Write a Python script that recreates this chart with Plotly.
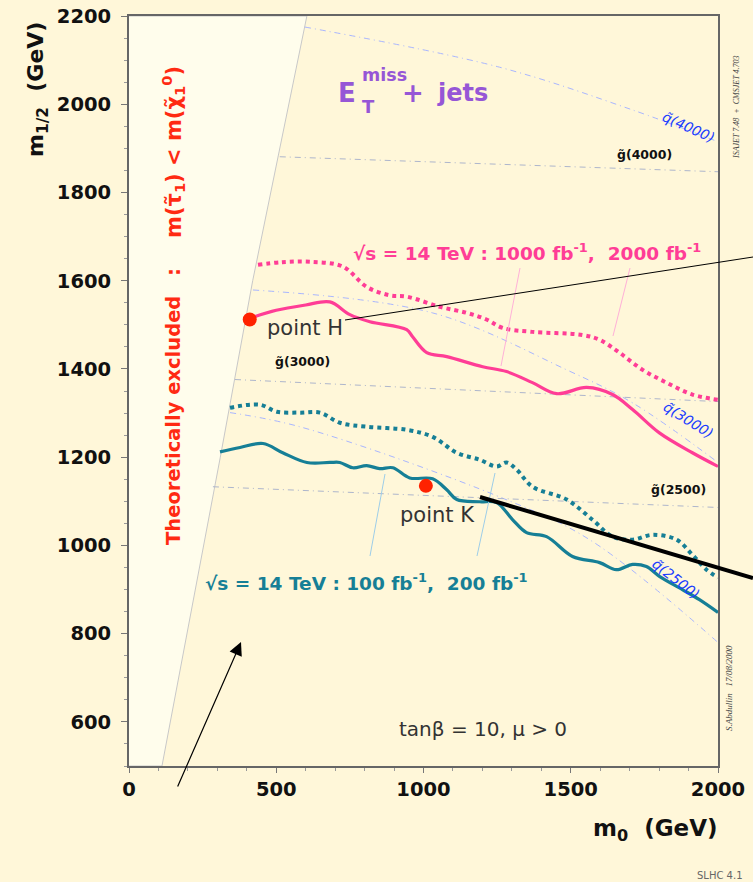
import plotly.graph_objects as go

# ---- figure geometry (pixels) ----
W, H = 753, 882
ML, MR, MT, MB = 129, 35, 16, 116
PW, PH = W - ML - MR, H - MT - MB


def paper(x, y):
    """pixel position on the page -> paper coordinates"""
    return (x - ML) / PW, (H - MB - y) / PH


# ---- data ----
excl_m0 = [0, 112, 310, 420, 604, 0]
excl_m12 = [500, 500, 1200, 1600, 2200, 2200]

# 5 sigma discovery reach, sqrt(s) = 14 TeV
pink_solid_m0 = [410, 500, 600, 682, 750, 818, 943, 963, 1011, 1079, 1201, 1282, 1370,
                 1452, 1554, 1642, 1710, 1801, 1913, 2000]
pink_solid_m12 = [1515, 1533, 1545, 1552, 1523, 1507, 1489, 1473, 1437, 1428, 1405, 1394,
                  1369, 1344, 1358, 1342, 1308, 1255, 1210, 1179]

pink_dot_m0 = [438, 520, 614, 726, 807, 885, 943, 1055, 1147, 1214, 1269, 1370, 1540,
               1598, 1665, 1744, 1825, 1913, 2000]
pink_dot_m12 = [1636, 1642, 1643, 1632, 1586, 1567, 1564, 1541, 1527, 1512, 1493, 1484,
                1477, 1466, 1437, 1398, 1369, 1342, 1330]

teal_solid_m0 = [309, 377, 455, 522, 604, 682, 716, 760, 807, 851, 896, 953, 1031, 1079,
                 1113, 1191, 1248, 1303, 1350, 1418, 1506, 1598, 1655, 1710, 1757, 1801,
                 1879, 1937, 2000]
teal_solid_m12 = [1212, 1222, 1231, 1210, 1188, 1188, 1188, 1176, 1181, 1174, 1176, 1153,
                  1151, 1126, 1104, 1099, 1097, 1058, 1029, 1020, 975, 961, 945, 957, 952,
                  930, 900, 877, 848]

teal_dot_m0 = [343, 444, 502, 580, 648, 716, 807, 943, 1031, 1113, 1191, 1248, 1282, 1316,
               1370, 1486, 1574, 1642, 1710, 1778, 1859, 1913, 1961, 2000]
teal_dot_m12 = [1312, 1319, 1303, 1301, 1301, 1278, 1269, 1262, 1246, 1210, 1194, 1179,
                1188, 1172, 1133, 1104, 1058, 1020, 1013, 1024, 1013, 979, 945, 927]

# iso-mass contours (squark / gluino)
sq4000_m0, sq4000_m12 = [597, 1258, 1710, 2000], [2175, 2084, 1987, 1915]
sq3000_m0, sq3000_m12 = [421, 1031, 1486, 1710, 2000], [1579, 1527, 1398, 1323, 1188]
sq2500_m0, sq2500_m12 = [343, 580, 1258, 1564, 2000], [1301, 1269, 1110, 1013, 780]
gl4000_m0, gl4000_m12 = [512, 2000], [1881, 1847]
gl3000_m0, gl3000_m12 = [360, 2000], [1376, 1326]
gl2500_m0, gl2500_m12 = [285, 2000], [1133, 1086]

# benchmark points
pt_names = ["point H", "point K"]
pt_m0 = [410, 1008]
pt_m12 = [1512, 1135]

x_ticks = [0, 500, 1000, 1500, 2000]
y_ticks = [600, 800, 1000, 1200, 1400, 1600, 1800, 2000, 2200]

# ---- style ----
BG = "#FFF7D9"
PINK = "#FF3D96"
TEAL = "#167F96"
SQ_COL = "#A9B6FF"
GL_COL = "#AEB6CC"
FONT = "DejaVu Sans, Liberation Sans, Arial, sans-serif"

fig = go.Figure()

fig.add_trace(go.Scatter(x=excl_m0, y=excl_m12, mode="lines", fill="toself",
                         fillcolor="#FFFDEC", line=dict(color="#C8C8C8", width=1),
                         hoverinfo="skip"))

for xs, ys, col in [(sq4000_m0, sq4000_m12, SQ_COL), (sq3000_m0, sq3000_m12, SQ_COL),
                    (sq2500_m0, sq2500_m12, SQ_COL), (gl4000_m0, gl4000_m12, GL_COL),
                    (gl3000_m0, gl3000_m12, GL_COL), (gl2500_m0, gl2500_m12, GL_COL)]:
    fig.add_trace(go.Scatter(x=xs, y=ys, mode="lines", line_shape="spline",
                             line=dict(color=col, width=1, dash="6px,4px,1px,4px"),
                             hoverinfo="skip"))

fig.add_trace(go.Scatter(x=pink_dot_m0, y=pink_dot_m12, mode="lines", line_shape="spline",
                         line=dict(color=PINK, width=4, dash="4px,4px")))
fig.add_trace(go.Scatter(x=pink_solid_m0, y=pink_solid_m12, mode="lines", line_shape="spline",
                         line=dict(color=PINK, width=3.2)))
fig.add_trace(go.Scatter(x=teal_dot_m0, y=teal_dot_m12, mode="lines", line_shape="spline",
                         line=dict(color=TEAL, width=4, dash="4px,4px")))
fig.add_trace(go.Scatter(x=teal_solid_m0, y=teal_solid_m12, mode="lines", line_shape="spline",
                         line=dict(color=TEAL, width=3.2)))
fig.add_trace(go.Scatter(x=pt_m0, y=pt_m12, mode="markers",
                         marker=dict(color="#FF2200", size=14, line=dict(width=0))))

ann = []


def text(x, y, s, size, color, ref="data", **kw):
    if ref == "px":
        x, y = paper(x, y)
        kw.update(xref="paper", yref="paper")
    else:
        kw.update(xref="x", yref="y")
    kw.setdefault("xanchor", "center")
    kw.setdefault("yanchor", "middle")
    d = dict(x=x, y=y, text=s, showarrow=False, font=dict(family=kw.pop("family", FONT),
             size=size, color=color, weight=kw.pop("weight", "normal"),
             style=kw.pop("style", "normal")))
    d.update(kw)
    ann.append(d)


# benchmark point labels
text(461, 1493, pt_names[0], 21, "#333333", xanchor="left")
text(912, 1070, pt_names[1], 21, "#333333", xanchor="left")

# contour labels
text(1750, 1885, "g̃(4000)", 12.5, "#111111", weight="bold")
text(590, 1416, "g̃(3000)", 12.5, "#111111", weight="bold")
text(1866, 1126, "g̃(2500)", 12.5, "#111111", weight="bold")
text(1900, 1949, "q̃(4000)", 14, "#1A3CFF", style="italic", textangle=24)
text(1900, 1285, "q̃(3000)", 14, "#1A3CFF", style="italic", textangle=32)
text(1857, 923, "q̃(2500)", 14, "#1A3CFF", style="italic", textangle=38)

# curve labels
text(351, 252, "√s = 14 TeV : 1000 fb<sup>-1</sup>,  2000 fb<sup>-1</sup>", 18.5, PINK,
     ref="px", weight="bold", xanchor="left")
text(203, 582, "√s = 14 TeV : 100 fb<sup>-1</sup>,  200 fb<sup>-1</sup>", 18.5, TEAL,
     ref="px", weight="bold", xanchor="left")

# channel label
PURPLE = "#9656D6"
text(336, 93, "E", 26, PURPLE, ref="px", weight="bold", xanchor="left")
text(360, 75, "miss", 17.5, PURPLE, ref="px", weight="bold", xanchor="left")
text(360, 106, "T", 18, PURPLE, ref="px", weight="bold", xanchor="left")
text(400, 93, "+", 26, PURPLE, ref="px", weight="bold", xanchor="left")
text(435, 93, "jets", 24, PURPLE, ref="px", weight="bold", xanchor="left")

# model parameters
text(909, 583, "tanβ = 10, μ > 0", 20, "#333333", xanchor="left")

# excluded region label
RED = "#FF2A12"
text(173, 421, "Theoretically excluded", 19.5, RED, ref="px", weight="bold", textangle=-90)
text(173, 272, ":", 20, RED, ref="px", weight="bold", textangle=-90)
text(173, 152, "m(τ̃<sub>1</sub>) < m(χ̃<sub>1</sub><sup>0</sup>)", 21, RED, ref="px",
     weight="bold", textangle=-90)

# axis titles
text(37, 90, "m<sub>1/2</sub>  (GeV)", 22, "#111111", ref="px", weight="bold", textangle=-90)
text(720, 830, "m<sub>0</sub>  (GeV)", 23, "#111111", ref="px", weight="bold",
     xanchor="right")

# credits
text(736, 108, "ISAJET 7.48  +  CMSJET 4.703", 8, "#444444", ref="px", textangle=-90,
     family="Liberation Serif, serif", style="italic")
text(729, 688, "S.Abdullin   17/08/2000", 9, "#444444", ref="px", textangle=-90,
     family="Liberation Serif, serif", style="italic")
text(745, 875, "SLHC 4.1", 10, "#666666", ref="px", xanchor="right")

# arrow pointing into the excluded corner
hx, hy = paper(241, 642)
ann.append(dict(x=hx, y=hy, xref="paper", yref="paper", ax=177 - 241, ay=788 - 642,
                text="", showarrow=True, arrowhead=2,
                arrowsize=2.2, arrowwidth=1.2, arrowcolor="black"))

shapes = []


def seg(x0, y0, x1, y1, color, width):
    a, b = paper(x0, y0)
    c, d = paper(x1, y1)
    shapes.append(dict(type="line", xref="paper", yref="paper", x0=a, y0=b, x1=c, y1=d,
                       line=dict(color=color, width=width), layer="above"))


# pointer lines from the curve labels
seg(520, 268, 501, 366, "#FFB0D8", 1)
seg(630, 268, 613, 336, "#FFB0D8", 1)
seg(370, 556, 385, 474, "#9DCDE8", 1)
seg(477, 556, 495, 473, "#9DCDE8", 1)
# leader lines
seg(345, 320, 753, 257, "black", 1)
seg(480, 497, 753, 578, "black", 4)

fig.update_layout(
    width=W, height=H,
    margin=dict(l=ML, r=MR, t=MT, b=MB, pad=0, autoexpand=False),
    paper_bgcolor=BG, plot_bgcolor=BG,
    showlegend=False,
    annotations=ann, shapes=shapes,
    font=dict(family=FONT),
)
fig.update_xaxes(range=[0, 2000], tickvals=x_ticks, ticktext=[str(v) for v in x_ticks],
                 ticks="outside", ticklen=5, tickcolor="#777777", automargin=False,
                 minor=dict(dtick=100, ticks="outside", ticklen=3, tickcolor="#999999"),
                 showgrid=False, zeroline=False, showline=True, linecolor="#666666",
                 linewidth=2, mirror=True,
                 tickfont=dict(size=19.5, color="#111111", weight="bold", family=FONT))
fig.update_yaxes(range=[500, 2200], tickvals=y_ticks, ticktext=[str(v) for v in y_ticks],
                 ticks="outside", ticklen=6, tickcolor="#777777", automargin=False,
                 minor=dict(dtick=50, ticks="outside", ticklen=3, tickcolor="#999999"),
                 showgrid=False, zeroline=False, showline=True, linecolor="#666666",
                 linewidth=2, mirror=True, ticklabelstandoff=6,
                 tickfont=dict(size=19.5, color="#111111", weight="bold", family=FONT))

fig.write_html("out.html")
